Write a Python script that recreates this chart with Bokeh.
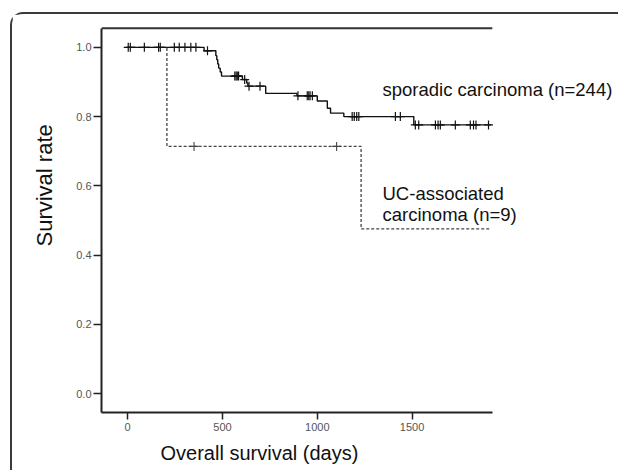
import numpy as np
from bokeh.plotting import figure
from bokeh.layouts import column
from bokeh.models import Label, FixedTicker, Range1d, Title
from bokeh.embed import file_html
from bokeh.resources import INLINE

# ---- data ----
spor_times = [0, 403, 465, 470, 475, 480, 488, 495, 605, 628, 634, 728, 893, 1000, 1053, 1070, 1140, 1509]
spor_surv = [1.0, 0.99, 0.976, 0.964, 0.952, 0.94, 0.929, 0.917, 0.907, 0.897, 0.888, 0.867, 0.86, 0.845, 0.824, 0.81, 0.80, 0.776]
spor_censor = [3, 14, 88, 163, 172, 246, 272, 302, 333, 360, 421, 565, 572, 578, 585, 617, 640, 698,
               898, 947, 955, 962, 974, 1184, 1195, 1208, 1219, 1412, 1438, 1517, 1535,
               1623, 1637, 1649, 1728, 1807, 1824, 1837, 1903]
spor_end = 1916

uc_times = [0, 207, 1231]
uc_surv = [1.0, 0.714, 0.476]
uc_censor = [350, 1102]
uc_end = 1916

x_ticks = [0, 500, 1000, 1500]
y_ticks = [0.0, 0.2, 0.4, 0.6, 0.8, 1.0]

x_title = "Overall survival (days)"
y_title = "Survival rate"
label_spor = "sporadic carcinoma (n=244)"
label_uc = ["UC-associated", "carcinoma (n=9)"]

# axis extents of the drawn box
x_lo, x_hi = -138, 1923
y_lo, y_hi = -0.0546, 1.055


def surv_at(times, surv, t):
    idx = np.searchsorted(np.array(times), np.array(t), side="right") - 1
    return list(np.array(surv)[idx])


p = figure(width=606, height=456, output_backend="svg", toolbar_location=None,
           x_range=Range1d(x_lo, 2578), y_range=Range1d(y_lo, 1.0718),
           min_border_left=89, min_border_right=2, min_border_top=8, min_border_bottom=56)

p.grid.visible = False
p.outline_line_color = None
p.background_fill_color = "white"
p.border_fill_color = "white"

# top line of the box
p.segment(x0=[x_lo], y0=[y_hi], x1=[x_hi], y1=[y_hi], line_color="#333333", line_width=2)

# curves
p.step(uc_times + [uc_end], uc_surv + [uc_surv[-1]], mode="after",
       line_color="#444444", line_width=1.3, line_dash="3 2")
p.step(spor_times + [spor_end], spor_surv + [spor_surv[-1]], mode="after",
       line_color="#111111", line_width=1.4)

# censor marks
p.scatter(uc_censor, surv_at(uc_times, uc_surv, uc_censor), marker="cross",
          size=9, line_color="#444444", line_width=1.1)
p.scatter(spor_censor, surv_at(spor_times, spor_surv, spor_censor), marker="cross",
          size=9, line_color="#111111", line_width=1.2)

# axes
for ax in (p.xaxis[0], p.yaxis[0]):
    ax.axis_line_color = "#222222"
    ax.axis_line_width = 2
    ax.major_tick_line_color = "#222222"
    ax.major_tick_line_width = 1.5
    ax.major_tick_in = 0
    ax.minor_tick_line_color = None
    ax.major_label_text_font = "Liberation Sans"
    ax.major_label_text_font_size = "11px"
    ax.major_label_text_color = "#555555"

p.xaxis.bounds = (x_lo, x_hi)
p.yaxis.bounds = (y_lo, y_hi)
p.xaxis.ticker = FixedTicker(ticks=x_ticks)
p.yaxis.ticker = FixedTicker(ticks=y_ticks)
p.xaxis.major_label_overrides = {t: str(t) for t in x_ticks}
p.yaxis.major_label_overrides = {t: f"{t:.1f}" for t in y_ticks}
p.xaxis.major_tick_out = 7
p.yaxis.major_tick_out = 8
p.xaxis.major_label_standoff = 3
p.yaxis.major_label_standoff = 2

# axis titles (placed as side titles so they can sit off-centre like the reference)
p.add_layout(Title(text=x_title, align="left", offset=59, standoff=13,
                   text_font="Liberation Sans", text_font_size="20px",
                   text_font_style="normal", text_color="#111111"), "below")
p.add_layout(Title(text=y_title, align="left", offset=166, standoff=34,
                   text_font="Liberation Sans", text_font_size="22px",
                   text_font_style="normal", text_color="#111111"), "left")

# annotations
for x, y, t in [(1344, 0.879, label_spor), (1344, 0.578, label_uc[0]), (1344, 0.517, label_uc[1])]:
    p.add_layout(Label(x=x, y=y, text=t, text_font="Liberation Sans",
                       text_font_size="18.5px", text_color="#111111", text_baseline="middle"))

page = column(p, margin=(12, 0, 0, 10),
              styles={"border-top": "2px solid #3a3a3a", "border-left": "2px solid #3a3a3a",
                      "border-top-left-radius": "13px"})

open("out.html", "w").write(file_html(page, INLINE))
